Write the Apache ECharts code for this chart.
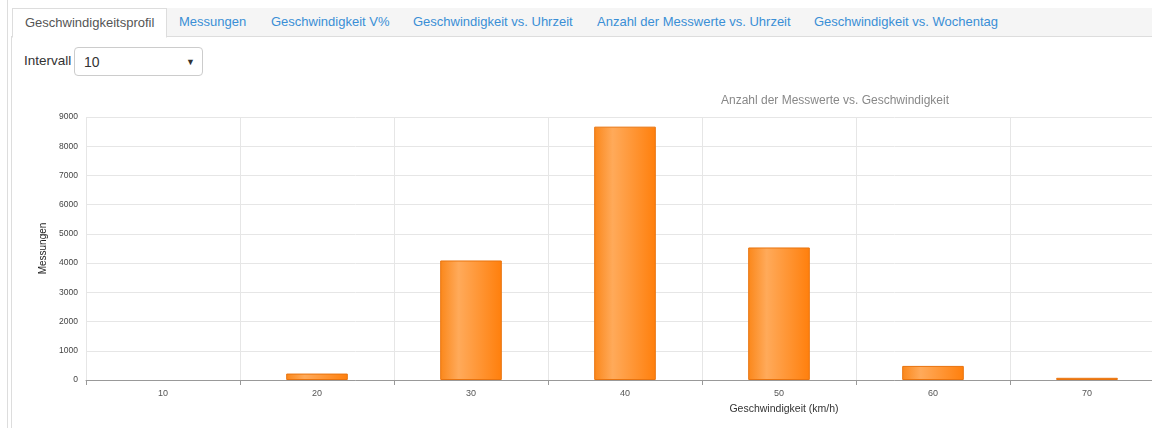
<!DOCTYPE html>
<html><head><meta charset="utf-8">
<script src="https://cdn.jsdelivr.net/npm/echarts@6/dist/echarts.min.js"></script>
<style>
html,body{margin:0;padding:0;width:1152px;height:428px;overflow:hidden;background:#fff;font-family:"Liberation Sans",Arial,sans-serif;}
#tabs{position:absolute;left:12px;top:8px;right:0;height:28px;background:#f5f5f5;border-bottom:1px solid #ddd;}
.tab{position:absolute;top:0;height:28px;line-height:27px;font-size:13px;color:#3a8fd6;white-space:nowrap;}
.tab.active{background:#fff;border:1px solid #ddd;border-bottom:1px solid #fff;color:#555;height:28px;top:0;}
#vl1{position:absolute;left:7px;top:0;width:1px;height:428px;background:#ddd;}
#vl2{position:absolute;left:11px;top:36px;width:1px;height:392px;background:#ddd;}
#lbl{position:absolute;left:24px;top:53px;font-size:13.5px;color:#333;}
#sel{position:absolute;left:74px;top:47px;width:129px;height:29px;border:1px solid #ccc;border-radius:4px;box-sizing:border-box;font-size:14px;color:#333;}
#sel span{position:absolute;left:9px;top:6px;}
#sel i{position:absolute;left:111px;top:9px;font-style:normal;font-size:9px;color:#333;}
#chart{position:absolute;left:0;top:84px;width:1200px;height:344px;}
</style></head><body>
<div id="vl1"></div><div id="vl2"></div>
<div id="tabs">
<div class="tab active" style="left:0;padding:0 12px;">Geschwindigkeitsprofil</div>
<div class="tab" style="left:167px;">Messungen</div>
<div class="tab" style="left:259px;">Geschwindigkeit V%</div>
<div class="tab" style="left:401px;">Geschwindigkeit vs. Uhrzeit</div>
<div class="tab" style="left:585px;">Anzahl der Messwerte vs. Uhrzeit</div>
<div class="tab" style="left:802px;">Geschwindigkeit vs. Wochentag</div>
</div>
<div id="lbl">Intervall</div>
<div id="sel"><span>10</span><i>&#9660;</i></div>
<div id="chart"></div>
<script>
const categories = ['10','20','30','40','50','60','70'];
const counts = [0, 220, 4090, 8670, 4535, 482, 75];
const yTicks = {min:0, max:9000, interval:1000};
const chartTitle = 'Anzahl der Messwerte vs. Geschwindigkeit';
const xName = 'Geschwindigkeit (km/h)';
const yName = 'Messungen';

const barData = counts.map(function(v){
  return v === 0 ? {value:v, itemStyle:{borderWidth:0}} : v;
});

const chart = echarts.init(document.getElementById('chart'), null, {renderer:'canvas'});
chart.setOption({
  animation:false,
  textStyle:{fontFamily:'"Liberation Sans", Arial, sans-serif'},
  title:[
    {text:chartTitle, left:830, top:6, textAlign:'center',
     textStyle:{fontSize:12, fontWeight:'normal', color:'#888'}},
    {text:xName, left:779, top:315, textAlign:'center',
     textStyle:{fontSize:10.5, fontWeight:'normal', color:'#333'}}
  ],
  grid:{left:86, top:33, width:1078, height:263, containLabel:false},
  xAxis:{type:'category', data:categories,
    axisLine:{lineStyle:{color:'#999'}},
    axisTick:{show:true, length:5, lineStyle:{color:'#999'}},
    axisLabel:{fontSize:9, color:'#555', margin:9},
    splitLine:{show:true, lineStyle:{color:'#e6e6e6'}}
  },
  yAxis:{type:'value', min:yTicks.min, max:yTicks.max, interval:yTicks.interval,
    name:yName, nameLocation:'middle', nameGap:37, nameRotate:90,
    nameTextStyle:{fontSize:10, color:'#222'},
    axisLine:{show:false}, axisTick:{show:false},
    axisLabel:{fontSize:8.5, color:'#444', margin:8, formatter:function(v){return String(v);}},
    splitLine:{lineStyle:{color:'#e6e6e6'}}
  },
  series:[{type:'bar', data:barData, barCategoryGap:'60%',
    itemStyle:{
      color:{type:'linear', x:0, y:0, x2:1, y2:0, colorStops:[
        {offset:0, color:'#fb871a'},{offset:0.3, color:'#ffaa5a'},{offset:1, color:'#ff7f0c'}]},
      borderColor:'#e8730e', borderWidth:1
    }
  }]
});
</script>
</body></html>
